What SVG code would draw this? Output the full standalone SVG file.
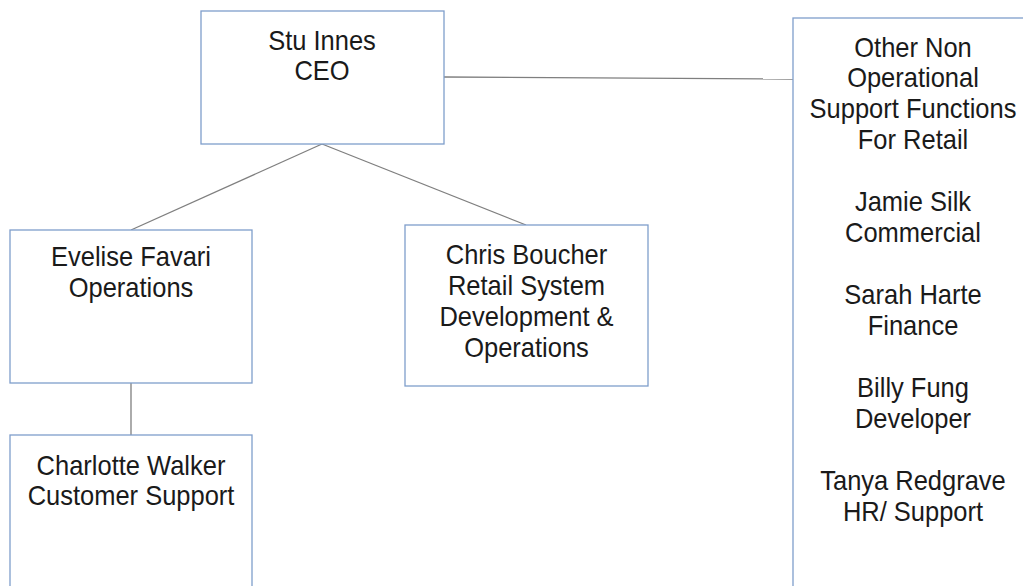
<svg xmlns="http://www.w3.org/2000/svg" width="1023" height="586" viewBox="0 0 1023 586">
<style>
.box{fill:#ffffff;stroke:#7f9ecb;stroke-width:1.3}
.conn{stroke:#7f7f7f;stroke-width:1.3;fill:none}
.t{font-family:"Liberation Sans",Arial,sans-serif;font-size:25.5px;fill:#1a1a1a;text-anchor:middle}
</style>
<rect width="1023" height="586" fill="#ffffff"/>
<g id="connectors">
<line class="conn" x1="444" y1="77" x2="793" y2="79"/>
<line class="conn" x1="322" y1="144" x2="131" y2="230"/>
<line class="conn" x1="322" y1="144" x2="526" y2="225"/>
<line class="conn" x1="131" y1="383" x2="131" y2="435"/>
</g>
<g id="ceo">
<rect class="box" x="201" y="11" width="243" height="133"/>
<text class="t" transform="translate(322 50) scale(1 1.08)"><tspan x="0" y="0">Stu Innes</tspan><tspan x="0" dy="28.2">CEO</tspan></text>
</g>
<g id="other">
<rect class="box" x="793" y="18" width="250" height="600"/>
<text class="t" transform="translate(913 56.5) scale(1 1.08)"><tspan x="0" y="0">Other Non</tspan><tspan x="0" dy="28.7">Operational</tspan><tspan x="0" dy="28.7">Support Functions</tspan><tspan x="0" dy="28.7">For Retail</tspan><tspan x="0" dy="57.4">Jamie Silk</tspan><tspan x="0" dy="28.7">Commercial</tspan><tspan x="0" dy="57.4">Sarah Harte</tspan><tspan x="0" dy="28.7">Finance</tspan><tspan x="0" dy="57.4">Billy Fung</tspan><tspan x="0" dy="28.7">Developer</tspan><tspan x="0" dy="57.4">Tanya Redgrave</tspan><tspan x="0" dy="28.7">HR/ Support</tspan></text>
</g>
<g id="evelise">
<rect class="box" x="10" y="230" width="242" height="153"/>
<text class="t" transform="translate(131 266) scale(1 1.08)"><tspan x="0" y="0">Evelise Favari</tspan><tspan x="0" dy="28.7">Operations</tspan></text>
</g>
<g id="chris">
<rect class="box" x="405" y="225" width="243" height="161"/>
<text class="t" transform="translate(526.5 264) scale(1 1.08)"><tspan x="0" y="0">Chris Boucher</tspan><tspan x="0" dy="28.7">Retail System</tspan><tspan x="0" dy="28.7">Development &amp;</tspan><tspan x="0" dy="28.7">Operations</tspan></text>
</g>
<g id="charlotte">
<rect class="box" x="10" y="435" width="242" height="200"/>
<text class="t" transform="translate(131 474.5) scale(1 1.08)"><tspan x="0" y="0">Charlotte Walker</tspan><tspan x="0" dy="28.2">Customer Support</tspan></text>
</g>
</svg>
